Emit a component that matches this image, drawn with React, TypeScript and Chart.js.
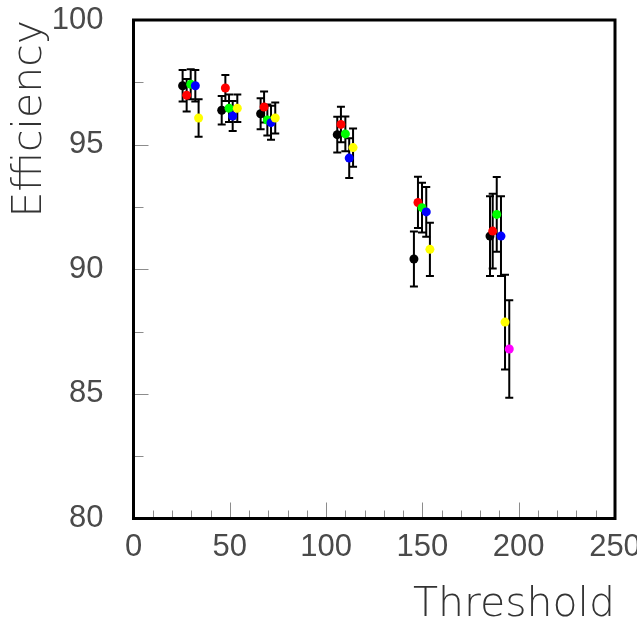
import React, { useEffect, useRef } from "react";
import { Chart, registerables } from "chart.js";

Chart.register(...registerables);

// ---- axis ranges / ticks ----
const X_MIN = 0;
const X_MAX = 250;
const Y_MIN = 80;
const Y_MAX = 100;
const X_STEP = 50;
const Y_STEP = 5;
const X_MINOR = 10;
const Y_MINOR = 2.5;

// ---- series (threshold, efficiency, error) ----
const blackX = [25.5, 45.8, 66.0, 105.8, 145.6, 185.1];
const blackY = [97.36, 96.38, 96.24, 95.4, 90.41, 91.33];
const blackE = [0.63, 0.57, 0.62, 0.72, 1.1, 1.6];

const redX = [27.6, 47.7, 67.8, 107.7, 147.7, 186.5];
const redY = [96.98, 97.27, 96.51, 95.81, 92.68, 91.53];
const redE = [0.65, 0.52, 0.62, 0.71, 1.03, 1.5];

const greenX = [29.7, 49.6, 69.5, 110.0, 149.8, 188.6];
const greenY = [97.42, 96.46, 95.99, 95.43, 92.47, 92.2];
const greenE = [0.6, 0.55, 0.62, 0.7, 1.0, 1.5];

const blueX = [32.1, 51.5, 71.4, 112.0, 152.0, 190.8];
const blueY = [97.36, 96.15, 95.88, 94.46, 92.3, 91.33];
const blueE = [0.63, 0.6, 0.68, 0.8, 1.0, 1.6];

const yellowX = [33.8, 53.9, 73.6, 114.0, 153.9, 192.9];
const yellowY = [96.07, 96.46, 96.07, 94.88, 90.8, 87.88];
const yellowE = [0.75, 0.55, 0.62, 0.77, 1.07, 1.9];

const magentaX = [195.1];
const magentaY = [86.8];
const magentaE = [1.96];

const series = [
  { name: "black", color: "#000000", x: blackX, y: blackY, e: blackE },
  { name: "red", color: "#ff0000", x: redX, y: redY, e: redE },
  { name: "green", color: "#00ff00", x: greenX, y: greenY, e: greenE },
  { name: "blue", color: "#0000ff", x: blueX, y: blueY, e: blueE },
  { name: "yellow", color: "#ffff00", x: yellowX, y: yellowY, e: yellowE },
  { name: "magenta", color: "#ff00ff", x: magentaX, y: magentaY, e: magentaE },
];

const TICK_FONT = "'Liberation Sans', Arial, Helvetica, sans-serif";
const TITLE_FONT = "'DejaVu Sans', 'Liberation Sans', sans-serif";
const TEXT = "#4a4a4a";
const TITLE_TEXT = "#333333";

const errorBarPlugin = {
  id: "errorBars",
  beforeDatasetsDraw(chart: any) {
    const ctx = chart.ctx;
    const xs = chart.scales.x;
    const ys = chart.scales.y;
    ctx.save();
    ctx.strokeStyle = "#000";
    ctx.lineWidth = 2;
    chart.data.datasets.forEach((ds: any) => {
      ds.data.forEach((p: any) => {
        const px = xs.getPixelForValue(p.x);
        const top = ys.getPixelForValue(p.y + p.err);
        const bot = ys.getPixelForValue(p.y - p.err);
        ctx.beginPath();
        ctx.moveTo(px, top);
        ctx.lineTo(px, bot);
        ctx.moveTo(px - 4, top);
        ctx.lineTo(px + 4, top);
        ctx.moveTo(px - 4, bot);
        ctx.lineTo(px + 4, bot);
        ctx.stroke();
      });
    });
    ctx.restore();
  },
};

const framePlugin = {
  id: "frame",
  afterDraw(chart: any) {
    const ctx = chart.ctx;
    const { left, right, top, bottom } = chart.chartArea;
    const xs = chart.scales.x;
    const ys = chart.scales.y;
    ctx.save();
    ctx.strokeStyle = "#8c8c8c";
    ctx.lineWidth = 1;
    ctx.beginPath();
    for (let v = X_MIN; v <= X_MAX + 1e-9; v += X_MINOR) {
      const px = Math.round(xs.getPixelForValue(v)) + 0.5;
      const len = Math.abs(v % X_STEP) < 1e-9 ? 16 : 8;
      ctx.moveTo(px, bottom);
      ctx.lineTo(px, bottom - len);
    }
    for (let v = Y_MIN; v <= Y_MAX + 1e-9; v += Y_MINOR) {
      const py = Math.round(ys.getPixelForValue(v)) + 0.5;
      const len = Math.abs(v % Y_STEP) < 1e-9 ? 15 : 10;
      ctx.moveTo(left, py);
      ctx.lineTo(left + len, py);
    }
    ctx.stroke();
    ctx.strokeStyle = "#000";
    ctx.lineWidth = 3;
    ctx.strokeRect(left, top, right - left, bottom - top);
    ctx.restore();
  },
};

export default function App() {
  const ref = useRef<HTMLCanvasElement>(null);
  useEffect(() => {
    const chart = new Chart(ref.current as HTMLCanvasElement, {
      type: "scatter",
      data: {
        datasets: series.map((s, i) => ({
          label: s.name,
          data: s.x.map((x, k) => ({ x, y: s.y[k], err: s.e[k] })),
          backgroundColor: s.color,
          borderColor: s.color,
          pointRadius: 4.5,
          pointBorderWidth: 0,
          pointHoverRadius: 4.5,
          showLine: false,
          order: 10 - i,
        })),
      } as any,
      options: {
        responsive: false,
        animation: false,
        devicePixelRatio: 1,
        layout: { padding: { left: 0, top: 20, right: 85, bottom: 0 } },
        plugins: {
          legend: { display: false },
          tooltip: { enabled: false },
        },
        scales: {
          x: {
            type: "linear",
            position: "bottom",
            min: X_MIN,
            max: X_MAX,
            grid: { display: false, drawTicks: false },
            border: { display: false },
            ticks: {
              stepSize: X_STEP,
              padding: 10,
              autoSkip: false,
              maxRotation: 0,
              color: TEXT,
              font: { size: 31, family: TICK_FONT },
            },
            title: {
              display: true,
              text: "Threshold",
              align: "end",
              color: TITLE_TEXT,
              padding: 0,
              font: { size: 41, family: TITLE_FONT, weight: "200", lineHeight: 1.0 },
            },
            afterFit: (s: any) => {
              s.height = 107.5;
              s.paddingLeft = 0;
              s.paddingRight = 0;
            },
          },
          y: {
            type: "linear",
            position: "left",
            min: Y_MIN,
            max: Y_MAX,
            grid: { display: false, drawTicks: false },
            border: { display: false },
            ticks: {
              stepSize: Y_STEP,
              padding: 30,
              color: TEXT,
              font: { size: 31, family: TICK_FONT },
            },
            title: {
              display: true,
              text: "Efficiency",
              align: "end",
              color: TITLE_TEXT,
              padding: { top: 10, bottom: 0 },
              font: { size: 41, family: TITLE_FONT, weight: "200", lineHeight: 1.0 },
            },
            afterFit: (s: any) => {
              s.width = 133.5;
              s.paddingTop = 0;
              s.paddingBottom = 0;
            },
          },
        },
      } as any,
      plugins: [errorBarPlugin, framePlugin],
    });
    return () => chart.destroy();
  }, []);

  return (
    <div
      style={{
        position: "absolute",
        left: 0,
        top: 0,
        width: 637,
        height: 626,
        overflow: "hidden",
        background: "#fff",
      }}
    >
      <canvas ref={ref} width={700} height={626} style={{ display: "block" }} />
    </div>
  );
}
